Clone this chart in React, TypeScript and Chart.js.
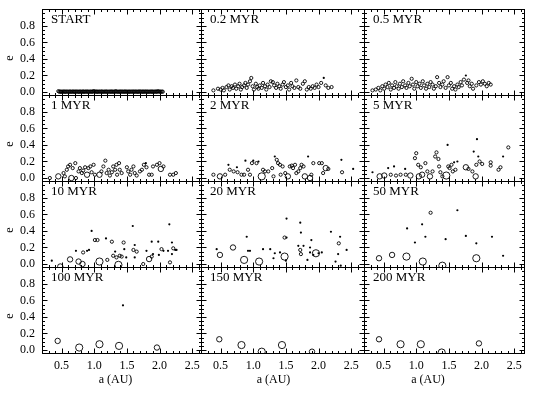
import React, { useEffect, useRef } from "react";
import { Chart, registerables } from "chart.js";

Chart.register(...registerables);

// ---------------- data ----------------
const PANEL_LABELS = ["START", "0.2 MYR", "0.5 MYR", "1 MYR", "2 MYR", "5 MYR", "10 MYR", "20 MYR", "50 MYR", "100 MYR", "150 MYR", "200 MYR"];
const X_TICKS = [0.5, 1.0, 1.5, 2.0, 2.5];
const Y_TICKS = [0.0, 0.2, 0.4, 0.6, 0.8];
const X_TITLE = "a (AU)";
const Y_TITLE = "e";

// each point: [a (AU), e, mass class 0..3]
const P_START = [[0.45,0.010,1],[0.465,0.004,1],[0.48,0.006,1],[0.49,0.002,1],[0.505,0.005,1],[0.52,0.003,1],[0.535,0.007,1],[0.55,0.002,1],[0.56,0.004,1],[0.575,0.006,1],[0.59,0.003,1],[0.605,0.005,1],[0.62,0.002,1],[0.63,0.006,1],[0.645,0.004,1],[0.66,0.003,1],[0.675,0.007,1],[0.69,0.002,1],[0.70,0.005,1],[0.715,0.004,1],[0.73,0.006,1],[0.745,0.003,1],[0.76,0.005,1],[0.77,0.002,1],[0.785,0.006,1],[0.80,0.004,1],[0.815,0.003,1],[0.83,0.007,1],[0.84,0.002,1],[0.855,0.005,1],[0.87,0.004,1],[0.885,0.006,1],[0.90,0.003,1],[0.91,0.005,1],[0.925,0.002,1],[0.94,0.006,1],[0.955,0.004,1],[0.97,0.003,1],[0.98,0.007,1],[0.995,0.010,1],[1.01,0.004,1],[1.025,0.006,1],[1.04,0.003,1],[1.05,0.005,1],[1.065,0.002,1],[1.08,0.006,1],[1.095,0.004,1],[1.11,0.003,1],[1.12,0.007,1],[1.135,0.002,1],[1.15,0.005,1],[1.165,0.004,1],[1.18,0.006,1],[1.19,0.003,1],[1.205,0.005,1],[1.22,0.002,1],[1.235,0.006,1],[1.25,0.004,1],[1.26,0.003,1],[1.275,0.007,1],[1.29,0.002,1],[1.305,0.005,1],[1.32,0.004,1],[1.33,0.010,1],[1.345,0.003,1],[1.36,0.005,1],[1.375,0.002,1],[1.39,0.006,1],[1.40,0.004,1],[1.415,0.003,1],[1.43,0.007,1],[1.445,0.002,1],[1.46,0.005,1],[1.47,0.004,1],[1.485,0.006,1],[1.50,0.003,1],[1.515,0.005,1],[1.53,0.002,1],[1.54,0.006,1],[1.555,0.004,1],[1.57,0.003,1],[1.585,0.007,1],[1.60,0.002,1],[1.61,0.005,1],[1.625,0.004,1],[1.64,0.006,1],[1.655,0.003,1],[1.67,0.005,1],[1.68,0.002,1],[1.695,0.008,1],[1.71,0.004,1],[1.725,0.003,1],[1.74,0.007,1],[1.75,0.002,1],[1.765,0.005,1],[1.78,0.004,1],[1.795,0.006,1],[1.81,0.003,1],[1.82,0.005,1],[1.835,0.002,1],[1.85,0.006,1],[1.865,0.004,1],[1.88,0.003,1],[1.89,0.007,1],[1.905,0.002,1],[1.92,0.005,1],[1.935,0.004,1],[1.95,0.006,1],[1.96,0.003,1],[1.975,0.010,1],[1.99,0.004,1],[2.005,0.006,1],[2.02,0.003,1],[2.035,0.005,1],[2.05,0.004,1]];

const P_02 = [[0.39,0.02,1],[0.46,0.04,1],[0.50,0.03,1],[0.53,0.05,1],[0.55,0.02,1],[0.59,0.06,1],[0.62,0.08,1],[0.64,0.03,1],[0.67,0.07,1],[0.69,0.05,1],[0.72,0.09,1],[0.74,0.04,1],[0.77,0.07,1],[0.79,0.10,1],[0.81,0.03,1],[0.83,0.06,1],[0.86,0.08,1],[0.88,0.11,1],[0.90,0.05,1],[0.92,0.09,1],[0.95,0.13,1],[0.97,0.17,1],[0.99,0.07,1],[1.01,0.03,1],[1.04,0.10,1],[1.06,0.06,1],[1.08,0.04,1],[1.10,0.08,1],[1.13,0.05,1],[1.15,0.11,1],[1.18,0.07,1],[1.20,0.03,1],[1.22,0.09,1],[1.25,0.06,1],[1.27,0.13,1],[1.30,0.12,1],[1.32,0.08,1],[1.35,0.05,1],[1.37,0.10,1],[1.40,0.07,1],[1.42,0.04,1],[1.45,0.09,1],[1.47,0.12,1],[1.50,0.06,1],[1.53,0.08,1],[1.55,0.03,1],[1.58,0.11,1],[1.60,0.07,1],[1.63,0.05,1],[1.66,0.14,1],[1.69,0.06,1],[1.72,0.04,1],[1.76,0.10,1],[1.79,0.13,1],[1.82,0.03,1],[1.85,0.06,1],[1.88,0.04,1],[1.91,0.07,1],[1.94,0.05,1],[1.97,0.09,1],[2.00,0.06,1],[2.04,0.11,1],[2.08,0.17,0],[2.11,0.08,1],[2.15,0.05,1],[2.20,0.06,1]];

const P_05 = [[0.33,0.02,1],[0.38,0.03,1],[0.42,0.05,1],[0.45,0.02,1],[0.48,0.07,1],[0.51,0.04,1],[0.53,0.09,1],[0.56,0.06,1],[0.58,0.11,1],[0.61,0.03,1],[0.63,0.08,1],[0.66,0.05,1],[0.68,0.12,1],[0.70,0.07,1],[0.73,0.04,1],[0.75,0.10,1],[0.78,0.06,1],[0.80,0.13,1],[0.83,0.08,1],[0.85,0.05,1],[0.88,0.11,1],[0.90,0.07,1],[0.93,0.16,1],[0.95,0.09,1],[0.97,0.04,1],[1.00,0.12,1],[1.02,0.07,1],[1.05,0.10,1],[1.07,0.05,1],[1.10,0.13,1],[1.12,0.08,1],[1.15,0.04,1],[1.17,0.10,1],[1.20,0.06,1],[1.22,0.12,1],[1.25,0.09,1],[1.27,0.04,1],[1.30,0.07,1],[1.32,0.18,1],[1.35,0.11,1],[1.37,0.06,1],[1.40,0.09,1],[1.42,0.13,1],[1.45,0.05,1],[1.48,0.18,1],[1.50,0.08,1],[1.53,0.11,1],[1.55,0.04,1],[1.58,0.07,1],[1.60,0.03,1],[1.63,0.09,1],[1.65,0.06,1],[1.68,0.12,1],[1.70,0.08,1],[1.73,0.15,1],[1.76,0.20,0],[1.78,0.11,1],[1.80,0.14,1],[1.82,0.07,1],[1.85,0.10,1],[1.87,0.04,1],[1.92,0.08,1],[1.96,0.12,1],[1.99,0.09,1],[2.02,0.13,1],[2.05,0.10,1],[2.08,0.07,1],[2.11,0.11,1],[2.14,0.09,1]];

const P_1 = [[0.32,0.00,1],[0.45,0.02,2],[0.53,0.06,1],[0.55,0.02,1],[0.58,0.10,1],[0.60,0.14,1],[0.63,0.16,1],[0.65,0.00,2],[0.67,0.12,1],[0.71,0.18,1],[0.72,0.00,1],[0.76,0.08,1],[0.78,0.12,1],[0.81,0.06,1],[0.83,0.09,1],[0.86,0.13,1],[0.89,0.04,2],[0.91,0.12,1],[0.94,0.14,1],[0.96,0.07,1],[0.99,0.16,1],[1.01,0.04,1],[1.08,0.04,2],[1.11,0.08,1],[1.14,0.14,1],[1.17,0.21,1],[1.19,0.06,1],[1.22,0.10,1],[1.24,0.03,1],[1.27,0.07,1],[1.29,0.14,1],[1.32,0.10,1],[1.34,0.16,1],[1.35,0.04,1],[1.38,0.18,1],[1.39,0.10,1],[1.42,0.06,1],[1.50,0.13,1],[1.52,0.08,1],[1.55,0.04,1],[1.57,0.10,1],[1.60,0.14,1],[1.62,0.06,1],[1.65,0.03,1],[1.70,0.08,1],[1.73,0.10,1],[1.76,0.16,1],[1.79,0.18,0],[1.80,0.13,1],[1.84,0.04,1],[1.88,0.04,1],[1.90,0.14,1],[1.96,0.16,1],[2.00,0.18,1],[2.02,0.11,2],[2.06,0.14,1],[2.16,0.04,1],[2.21,0.04,1],[2.25,0.06,1]];

const P_2 = [[0.39,0.04,1],[0.49,0.02,2],[0.57,0.04,1],[0.62,0.16,0],[0.64,0.10,1],[0.70,0.08,1],[0.75,0.13,0],[0.76,0.07,1],[0.82,0.04,1],[0.86,0.04,1],[0.88,0.21,0],[0.92,0.10,1],[0.95,0.04,1],[0.98,0.18,1],[1.00,0.21,0],[1.05,0.18,1],[1.08,0.20,0],[1.13,0.02,3],[1.15,0.10,1],[1.18,0.08,1],[1.23,0.08,1],[1.29,0.12,1],[1.31,0.02,1],[1.33,0.26,0],[1.36,0.22,1],[1.38,0.18,1],[1.41,0.16,1],[1.42,0.04,1],[1.45,0.14,1],[1.49,0.06,1],[1.53,0.02,2],[1.56,0.14,1],[1.59,0.15,1],[1.61,0.12,1],[1.64,0.16,1],[1.66,0.06,1],[1.69,0.08,1],[1.72,0.12,1],[1.74,0.16,1],[1.77,0.14,1],[1.79,0.02,2],[1.84,0.26,0],[1.87,0.00,2],[1.89,0.04,1],[1.92,0.18,1],[2.01,0.18,1],[2.05,0.18,1],[2.07,0.06,1],[2.11,0.12,2],[2.15,0.11,1],[2.35,0.22,0],[2.36,0.07,1],[2.53,0.11,0]];

const P_5 = [[0.33,0.07,0],[0.44,0.02,2],[0.51,0.03,2],[0.57,0.12,0],[0.61,0.04,1],[0.66,0.14,0],[0.69,0.03,1],[0.76,0.04,1],[0.83,0.11,0],[0.84,0.04,1],[0.91,0.03,2],[0.98,0.24,1],[1.00,0.30,1],[1.03,0.16,1],[1.04,0.02,2],[1.07,0.13,1],[1.09,0.04,2],[1.14,0.18,1],[1.17,0.08,1],[1.21,0.02,2],[1.25,0.08,1],[1.29,0.26,1],[1.31,0.31,1],[1.34,0.23,1],[1.35,0.14,1],[1.37,0.07,1],[1.40,0.02,1],[1.46,0.03,3],[1.48,0.40,0],[1.49,0.14,1],[1.51,0.12,1],[1.54,0.16,1],[1.56,0.08,1],[1.58,0.19,0],[1.60,0.10,1],[1.63,0.20,0],[1.76,0.13,2],[1.80,0.11,1],[1.86,0.08,1],[1.88,0.32,0],[1.91,0.02,2],[1.92,0.16,1],[1.93,0.47,0],[1.95,0.26,0],[1.97,0.20,1],[2.01,0.17,1],[2.14,0.19,1],[2.14,0.15,1],[2.26,0.10,1],[2.29,0.13,1],[2.33,0.26,0],[2.41,0.37,1]];

const P_10 = [[0.35,0.04,0],[0.48,-0.03,2],[0.63,0.056,2],[0.72,0.16,0],[0.76,0.03,2],[0.82,0.00,2],[0.83,0.14,1],[0.89,0.16,0],[0.92,0.17,0],[0.96,0.40,0],[1.01,0.29,1],[1.05,0.29,1],[1.08,0.03,3],[1.18,0.31,0],[1.20,0.05,1],[1.27,0.27,1],[1.29,0.10,1],[1.32,0.15,0],[1.34,0.08,1],[1.37,-0.01,3],[1.39,0.10,1],[1.42,0.09,1],[1.45,0.26,1],[1.46,0.18,0],[1.49,0.08,0],[1.59,0.46,0],[1.60,0.17,1],[1.62,0.23,0],[1.62,0.08,0],[1.65,0.15,1],[1.75,0.00,1],[1.80,0.16,0],[1.84,0.06,2],[1.88,0.09,1],[1.88,0.27,0],[1.90,0.12,0],[1.98,0.27,0],[1.99,0.11,0],[2.03,0.18,1],[2.06,0.16,0],[2.13,0.16,0],[2.15,0.48,0],[2.16,0.02,1],[2.19,0.26,0],[2.19,0.12,0],[2.21,0.19,1],[2.24,0.17,0],[2.26,0.17,0]];

const P_20 = [[0.44,0.18,0],[0.49,0.11,2],[0.69,0.20,2],[0.86,0.05,3],[0.90,0.33,0],[0.92,0.16,0],[0.95,0.16,0],[1.09,0.03,3],[1.15,0.18,0],[1.26,0.18,0],[1.31,0.07,0],[1.33,0.13,0],[1.41,0.14,0],[1.48,0.09,3],[1.50,0.04,0],[1.48,0.32,1],[1.51,0.32,0],[1.51,0.55,0],[1.69,0.22,0],[1.72,0.50,0],[1.73,0.38,0],[1.72,0.17,1],[1.73,0.12,1],[1.77,0.22,0],[1.83,0.05,0],[1.87,0.14,0],[1.87,0.20,0],[1.89,0.29,0],[1.92,0.11,0],[1.96,0.13,3],[2.00,0.13,0],[2.05,0.14,0],[2.19,0.39,0],[2.26,0.03,0],[2.31,0.25,1],[2.33,0.33,0],[2.30,0.12,0],[2.34,-0.02,0],[2.43,0.17,0]];

const P_50 = [[0.43,0.07,2],[0.63,0.11,2],[0.85,0.09,3],[0.86,0.43,0],[0.98,0.26,0],[1.09,0.48,0],[1.10,0.03,3],[1.14,0.33,0],[1.22,0.62,1],[1.40,-0.02,3],[1.45,0.30,0],[1.63,0.65,0],[1.76,0.34,0],[1.92,0.07,3],[1.92,0.25,0],[2.16,0.33,0],[2.33,0.10,0]];

const P_100 = [[0.44,0.11,2],[0.77,0.03,3],[1.08,0.07,3],[1.38,0.05,3],[1.44,0.54,0],[1.96,0.03,2]];
const P_150 = [[0.48,0.13,2],[0.82,0.06,3],[1.13,-0.02,3],[1.44,0.06,3],[1.90,-0.02,2]];
const P_200 = [[0.43,0.13,2],[0.76,0.07,3],[1.07,0.07,3],[1.39,-0.03,3],[1.96,0.08,2]];

const PANEL_DATA = [P_START, P_02, P_05, P_1, P_2, P_5, P_10, P_20, P_50, P_100, P_150, P_200];

// ---------------- layout / style ----------------
const FONT = '"Liberation Serif", "Times New Roman", serif';
const COL_LEFT = [42, 201, 364];
const COL_WIDTH = [159, 163, 160];
const ROW_TOP = [9, 95, 181, 267];
const ROW_HEIGHT = 86;
const AXIS_W = 42;
const AXIS_H = 42;
const PX_PER_AU = 65.3;
const X_MIN = 0.2;
const Y_MIN = -0.036;
const Y_MAX = 1.004;
const RADIUS = [1.1, 1.6, 2.7, 3.6];
const X_TITLE_DX = [-6, -9, -16]; // horizontal offset of the x title from the panel centre
const Y_TITLE_X = 10;
const Y_TITLE_AT = 0.41; // e value where the y title is centred

const framePlugin = {
  id: "frame",
  afterDraw(chart: any, _args: any, opts: any) {
    const { ctx, chartArea } = chart;
    const { left, right, top, bottom } = chartArea;
    const xs = chart.scales.x;
    const ys = chart.scales.y;
    ctx.save();
    ctx.strokeStyle = "#000";
    ctx.lineWidth = 1;
    ctx.strokeRect(left + 0.5, top + 0.5, right - left, bottom - top);
    ctx.beginPath();
    for (let i = 2; i <= 26; i++) {
      const v = i / 10;
      const len = i % 5 === 0 ? 5 : 2.5;
      const px = Math.round(xs.getPixelForValue(v)) + 0.5;
      if (px <= left + 1 || px >= right) continue;
      ctx.moveTo(px, bottom + 0.5);
      ctx.lineTo(px, bottom + 0.5 - len);
      ctx.moveTo(px, top + 0.5);
      ctx.lineTo(px, top + 0.5 + len);
    }
    for (let i = 0; i <= 20; i++) {
      const v = i / 20;
      const len = i % 4 === 0 ? 5 : 2.5;
      const py = Math.round(ys.getPixelForValue(v)) + 0.5;
      if (py <= top + 1 || py >= bottom) continue;
      ctx.moveTo(left + 0.5, py);
      ctx.lineTo(left + 0.5 + len, py);
      ctx.moveTo(right + 0.5, py);
      ctx.lineTo(right + 0.5 - len, py);
    }
    ctx.stroke();
    ctx.fillStyle = "#000";
    ctx.font = `13px ${FONT}`;
    ctx.textBaseline = "alphabetic";
    ctx.textAlign = "left";
    ctx.fillText(opts.label, left + 9, top + 14);

    ctx.font = `12px ${FONT}`;
    ctx.textAlign = "center";
    ctx.textBaseline = "middle";
    if (opts.xTitle) {
      ctx.fillText(X_TITLE, (left + right) / 2 + opts.dx, bottom + 27);
    }
    if (opts.yTitle) {
      ctx.translate(Y_TITLE_X, ys.getPixelForValue(Y_TITLE_AT));
      ctx.rotate(-Math.PI / 2);
      ctx.fillText(Y_TITLE, 0, 0);
    }
    ctx.restore();
  },
};

function Panel({ idx }: { idx: number }) {
  const ref = useRef<HTMLCanvasElement | null>(null);
  const r = Math.floor(idx / 3);
  const c = idx % 3;
  const isLeft = c === 0;
  const isBottom = r === 3;
  const cw = (isLeft ? AXIS_W : 0) + COL_WIDTH[c] + 1;
  const ch = ROW_HEIGHT + (isBottom ? AXIS_H : 1);

  useEffect(() => {
    const pts = PANEL_DATA[idx];
    const chart = new Chart(ref.current as HTMLCanvasElement, {
      type: "scatter",
      data: {
        datasets: [
          {
            data: pts.map((p) => ({ x: p[0], y: p[1] })),
            pointRadius: (ctx: any) => RADIUS[pts[ctx.dataIndex][2]],
            pointHoverRadius: (ctx: any) => RADIUS[pts[ctx.dataIndex][2]],
            pointBackgroundColor: (ctx: any) => (pts[ctx.dataIndex][2] === 0 ? "#000" : "rgba(255,255,255,0)"),
            pointBorderColor: "#000",
            pointBorderWidth: (ctx: any) => (pts[ctx.dataIndex][2] === 0 ? 0 : 0.9),
            pointHitRadius: 0,
          },
        ],
      },
      options: {
        animation: false,
        responsive: false,
        maintainAspectRatio: false,
        devicePixelRatio: 1,
        events: [],
        layout: { autoPadding: false, padding: { left: 0, top: 0, right: 1, bottom: isBottom ? 0 : 1 } },
        plugins: {
          legend: { display: false },
          tooltip: { enabled: false },
          title: { display: false },
          frame: { label: PANEL_LABELS[idx], xTitle: isBottom, yTitle: isLeft, dx: X_TITLE_DX[c] },
        } as any,
        scales: {
          x: {
            type: "linear",
            min: X_MIN,
            max: X_MIN + COL_WIDTH[c] / PX_PER_AU,
            display: isBottom,
            grid: { display: false, drawTicks: false },
            border: { display: false },
            afterBuildTicks: (s: any) => {
              s.ticks = X_TICKS.map((v) => ({ value: v }));
            },
            afterFit: (s: any) => {
              s.height = isBottom ? AXIS_H : 0;
              s.paddingLeft = 0;
              s.paddingRight = 0;
              s.paddingTop = 0;
              s.paddingBottom = 0;
            },
            ticks: {
              callback: (v: any) => Number(v).toFixed(1),
              color: "#000",
              font: { family: FONT, size: 12 },
              padding: 6,
              maxRotation: 0,
              autoSkip: false,
            },
            title: { display: false },
          },
          y: {
            type: "linear",
            min: Y_MIN,
            max: Y_MAX,
            display: isLeft,
            grid: { display: false, drawTicks: false },
            border: { display: false },
            afterBuildTicks: (s: any) => {
              s.ticks = Y_TICKS.map((v) => ({ value: v }));
            },
            afterFit: (s: any) => {
              s.width = isLeft ? AXIS_W : 0;
              s.paddingLeft = 0;
              s.paddingRight = 0;
              s.paddingTop = 0;
              s.paddingBottom = 0;
            },
            ticks: {
              callback: (v: any) => Number(v).toFixed(1),
              color: "#000",
              font: { family: FONT, size: 12 },
              padding: 7,
              autoSkip: false,
            },
            title: { display: false },
          },
        },
      },
      plugins: [framePlugin],
    } as any);
    return () => chart.destroy();
  }, [idx]);

  return (
    <canvas
      ref={ref}
      width={cw}
      height={ch}
      style={{ position: "absolute", left: isLeft ? 0 : COL_LEFT[c], top: ROW_TOP[r], width: cw, height: ch }}
    />
  );
}

export default function App() {
  return (
    <div style={{ position: "fixed", left: 0, top: 0, width: 540, height: 395, background: "#fff", overflow: "hidden" }}>
      {PANEL_LABELS.map((_, i) => (
        <Panel key={i} idx={i} />
      ))}
    </div>
  );
}
